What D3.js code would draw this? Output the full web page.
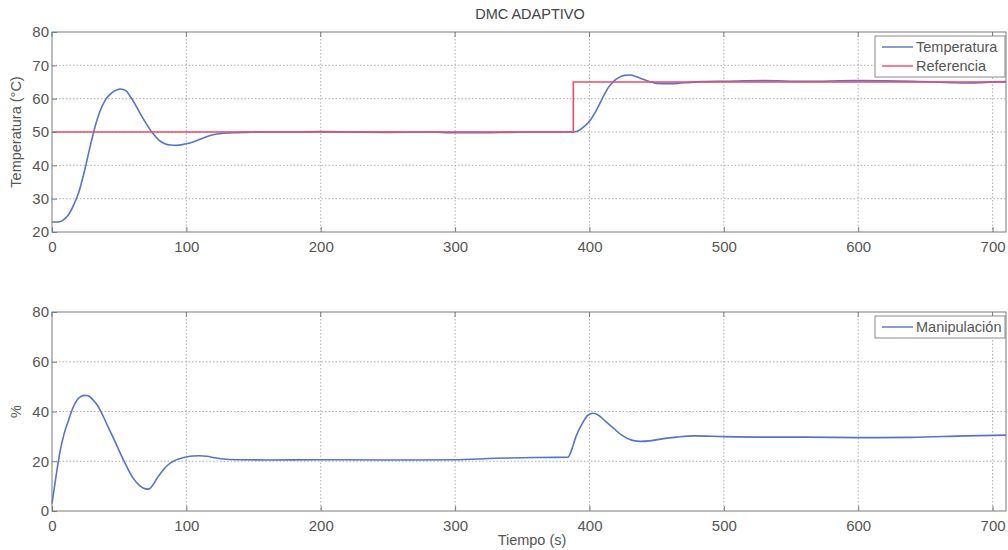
<!DOCTYPE html>
<html>
<head>
<meta charset="utf-8">
<script src="https://cdn.jsdelivr.net/npm/d3@7"></script>
<style>
body { margin: 0; background: #fff; }
text { font-family: "Liberation Sans", Arial, sans-serif; }
</style>
</head>
<body>
<script>
// datos
var tempTime = [0, 5, 8, 12, 16, 20, 24, 28, 32, 36, 40, 44, 48, 51, 55, 58, 62, 66, 70, 75, 80, 84, 88, 93, 98, 105, 110, 115, 120, 125, 130, 135, 145, 160, 180, 200, 220, 250, 280, 300, 320, 340, 360, 380, 388, 391, 395, 400, 405, 410, 414, 418, 422, 426, 430, 435, 440, 445, 450, 458, 466, 475, 485, 500, 530, 560, 600, 640, 670, 680, 690, 700, 710];
var tempVals = [23, 23, 23.5, 25, 28, 32, 38, 45, 51.5, 56.5, 59.8, 61.6, 62.6, 62.9, 62.4, 60.8, 58.2, 55.3, 52.6, 49.6, 47.4, 46.5, 46.1, 46, 46.3, 47, 47.8, 48.6, 49.2, 49.5, 49.7, 49.8, 49.9, 50, 50, 50.1, 50, 49.9, 50, 49.8, 49.8, 49.9, 50, 50, 50, 50.2, 51.3, 53.2, 56.4, 60.4, 63.3, 65.2, 66.4, 67, 67.1, 66.6, 65.8, 65.1, 64.6, 64.5, 64.6, 64.9, 65.1, 65.2, 65.4, 65.2, 65.4, 65.2, 64.8, 64.7, 64.8, 65, 65.1];

var refTime = [0, 388, 388, 710];
var refVals = [50, 50, 65, 65];

var manTime = [0, 3, 6, 9, 12, 16, 20, 24, 27, 30, 34, 38, 42, 46, 50, 55, 60, 65, 69, 72, 75, 78, 82, 86, 90, 95, 100, 105, 110, 115, 122, 130, 140, 160, 200, 250, 300, 330, 360, 384, 386, 390, 395, 399, 403, 407, 412, 418, 424, 432, 438, 445, 455, 465, 478, 500, 530, 560, 600, 640, 680, 700, 710];
var manVals = [3, 14, 24, 31, 36, 42, 45.5, 46.5, 46.3, 45, 42.3, 38.2, 33.5, 29, 24.2, 18.5, 13.5, 10.3, 9, 8.8, 10.4, 13, 16, 18.4, 19.9, 21, 21.7, 22.1, 22.2, 22, 21.3, 20.8, 20.6, 20.5, 20.6, 20.5, 20.6, 21.2, 21.5, 21.6, 23.5, 30, 35.5, 38.6, 39.3, 38.4, 36, 33.2, 30.5, 28.4, 28, 28.2, 29.1, 29.7, 30.2, 29.9, 29.7, 29.7, 29.5, 29.6, 30.2, 30.4, 30.5];

var xTicks = [0, 100, 200, 300, 400, 500, 600, 700];
var yTicksTop = [20, 30, 40, 50, 60, 70, 80];
var yTicksBot = [0, 20, 40, 60, 80];

var W = 1008, H = 550;
var left = 52, right = 1006;

var svg = d3.select("body").append("svg")
    .attr("width", W)
    .attr("height", H);

var x = d3.scaleLinear().domain([0, 710]).range([left, right]);

var blue = "#5674c8", red = "#ef4b63";
var axisCol = "#7a7a7a", textCol = "#555";

function panel(top, bottom, yDomain, yTicks, lines, legendItems, ylabel) {
    var y = d3.scaleLinear().domain(yDomain).range([bottom, top]);
    var g = svg.append("g");

    g.append("rect")
        .attr("x", left).attr("y", top)
        .attr("width", right - left).attr("height", bottom - top)
        .attr("fill", "#fff");

    // grid
    g.selectAll(".vg").data(xTicks.slice(1)).enter().append("line")
        .attr("x1", function(d){return x(d);}).attr("x2", function(d){return x(d);})
        .attr("y1", top).attr("y2", bottom)
        .attr("stroke", "#9a9a9a").attr("stroke-width", 0.8)
        .attr("stroke-dasharray", "1.5,2");
    g.selectAll(".hg").data(yTicks.slice(1, -1)).enter().append("line")
        .attr("x1", left).attr("x2", right)
        .attr("y1", function(d){return y(d);}).attr("y2", function(d){return y(d);})
        .attr("stroke", "#9a9a9a").attr("stroke-width", 0.8)
        .attr("stroke-dasharray", "1.5,2");

    var line = d3.line()
        .x(function(d){return x(d[0]);})
        .y(function(d){return y(d[1]);})
        .curve(d3.curveMonotoneX);
    var stepLine = d3.line()
        .x(function(d){return x(d[0]);})
        .y(function(d){return y(d[1]);});

    lines.forEach(function(l) {
        var pts = l.t.map(function(t, i){return [t, l.v[i]];});
        g.append("path")
            .attr("d", l.step ? stepLine(pts) : line(pts))
            .attr("fill", "none")
            .attr("stroke", l.color)
            .attr("stroke-width", 1.6);
    });

    // axes (ticks inside, like MATLAB)
    var xa = d3.axisBottom(x).tickValues(xTicks).tickSize(-5).tickPadding(9).tickFormat(d3.format("d"));
    var ya = d3.axisLeft(y).tickValues(yTicks).tickSize(-5).tickPadding(3).tickFormat(d3.format("d"));

    var gx = g.append("g").attr("transform", "translate(0," + bottom + ")").call(xa);
    var gy = g.append("g").attr("transform", "translate(" + left + ",0)").call(ya);
    [gx, gy].forEach(function(a) {
        a.select(".domain").remove();
        a.selectAll("line").attr("stroke", axisCol);
        a.selectAll("text").attr("fill", textCol).style("font-size", "15px");
    });
    // top ticks
    g.selectAll(".tt").data(xTicks).enter().append("line")
        .attr("x1", function(d){return x(d);}).attr("x2", function(d){return x(d);})
        .attr("y1", top).attr("y2", top + 5).attr("stroke", axisCol);

    g.append("rect")
        .attr("x", left).attr("y", top)
        .attr("width", right - left).attr("height", bottom - top)
        .attr("fill", "none").attr("stroke", axisCol).attr("stroke-width", 1);

    g.append("text")
        .attr("transform", "translate(21," + ((top + bottom) / 2) + ") rotate(-90)")
        .attr("text-anchor", "middle")
        .attr("fill", textCol)
        .style("font-size", "14.5px")
        .text(ylabel);

    // legend
    var lw = 130, lh = legendItems.length * 19 + 3;
    var lx = right - lw - 1, ly = top + 4;
    var lg = g.append("g");
    lg.append("rect").attr("x", lx).attr("y", ly).attr("width", lw).attr("height", lh)
        .attr("fill", "#fff").attr("stroke", "#8a8a8a");
    legendItems.forEach(function(it, i) {
        var cy = ly + 11 + i * 19;
        lg.append("line").attr("x1", lx + 7).attr("x2", lx + 38)
            .attr("y1", cy).attr("y2", cy).attr("stroke", it.color).attr("stroke-width", 1.4);
        lg.append("text").attr("x", lx + 41).attr("y", cy + 5)
            .attr("fill", textCol).style("font-size", "14.5px").text(it.name);
    });
}

panel(32, 232, [20, 80], yTicksTop,
    [{t: tempTime, v: tempVals, color: blue},
     {t: refTime, v: refVals, color: red, step: true}],
    [{name: "Temperatura", color: blue}, {name: "Referencia", color: red}],
    "Temperatura (°C)");

panel(312, 511, [0, 80], yTicksBot,
    [{t: manTime, v: manVals, color: blue}],
    [{name: "Manipulación", color: blue}],
    "%");

svg.append("text")
    .attr("x", 530).attr("y", 19)
    .attr("text-anchor", "middle")
    .attr("fill", "#444")
    .style("font-size", "14.5px")
    .text("DMC ADAPTIVO");

svg.append("text")
    .attr("x", 532).attr("y", 545)
    .attr("text-anchor", "middle")
    .attr("fill", textCol)
    .style("font-size", "14.5px")
    .text("Tiempo (s)");
</script>
</body>
</html>
